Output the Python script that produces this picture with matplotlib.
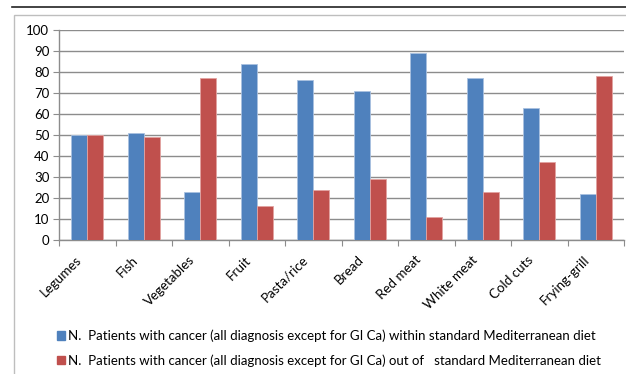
import numpy as np
import matplotlib
matplotlib.use('Agg')
import matplotlib.pyplot as plt
import matplotlib.patches as mpatches
import matplotlib.transforms as mtransforms
from matplotlib.lines import Line2D

# food groups and number of patients (%) for each adherence group
foods = ['Legumes', 'Fish', 'Vegetables', 'Fruit', 'Pasta/rice', 'Bread',
         'Red meat', 'White meat', 'Cold cuts', 'Frying-grill']
within_diet = [50, 51, 23, 84, 76, 71, 89, 77, 63, 22]
out_of_diet = [50, 49, 77, 16, 24, 29, 11, 23, 37, 78]

label_within = 'N.  Patients with cancer (all diagnosis except for GI Ca) within standard Mediterranean diet'
label_out = 'N.  Patients with cancer (all diagnosis except for GI Ca) out of   standard Mediterranean diet'

blue = '#4F81BD'
red = '#C0504D'
grid_col = '#8C8C8C'

plt.rcParams['font.family'] = ['Lato', 'DejaVu Sans']

W, H = 626, 374
fig = plt.figure(figsize=(W / 100, H / 100), dpi=100)

# page rule above the chart and the chart's outer frame
fig.add_artist(Line2D([12 / W, 1.0], [1 - 7 / H, 1 - 7 / H], color='#222222', lw=1.2))
fig.add_artist(mpatches.Rectangle((14 / W, -0.1), 1.2, 1.1 - 15 / H,
                                  transform=fig.transFigure, fill=False,
                                  edgecolor='#BEBEBE', lw=1.0))

ax = fig.add_axes([59 / W, 1 - 240 / H, 565 / W, 210 / H])

x = np.arange(len(foods))
bw = 1 / 3.5
ax.bar(x - bw / 2, within_diet, bw, color=blue, edgecolor='#A9C1E0', lw=0.6, zorder=3)
ax.bar(x + bw / 2, out_of_diet, bw, color=red, edgecolor='#E2A3A1', lw=0.6, zorder=3)

ax.set_xlim(-0.5, len(foods) - 0.5)
ax.set_ylim(0, 100)
ax.set_yticks(range(0, 101, 10))
ax.yaxis.grid(True, color=grid_col, lw=1.0, zorder=0)
ax.set_axisbelow(True)

for s in ['top', 'right']:
    ax.spines[s].set_visible(False)
for s in ['left', 'bottom']:
    ax.spines[s].set_color('#8C8C8C')
    ax.spines[s].set_linewidth(1.0)

# category boundaries get the x ticks, labels sit at the centres
ax.set_xticks(np.arange(-0.5, len(foods), 1.0))
ax.set_xticklabels([])
ax.set_xticks(x, minor=True)
ax.set_xticklabels(foods, minor=True, rotation=45, ha='right',
                   rotation_mode='anchor', fontsize=9.6)
ax.tick_params(axis='x', which='minor', length=0, pad=4)
ax.tick_params(axis='x', which='major', length=4, color='#8C8C8C', direction='out')
ax.tick_params(axis='y', length=4, color='#8C8C8C', labelsize=9.5, pad=3)

shift = mtransforms.ScaledTranslation(-12 / 100, -8 / 100, fig.dpi_scale_trans)
for lab in ax.get_xticklabels(minor=True):
    lab.set_transform(lab.get_transform() + shift)

handles = [mpatches.Patch(color=blue, label=label_within),
           mpatches.Patch(color=red, label=label_out)]
fig.legend(handles=handles, loc='upper left', bbox_to_anchor=(50 / W, 1 - 323 / H),
           frameon=False, fontsize=9.5, handlelength=0.6, handleheight=0.6,
           handletextpad=0.3, labelspacing=0.9, borderpad=0)

plt.savefig('out.png', dpi=100)
